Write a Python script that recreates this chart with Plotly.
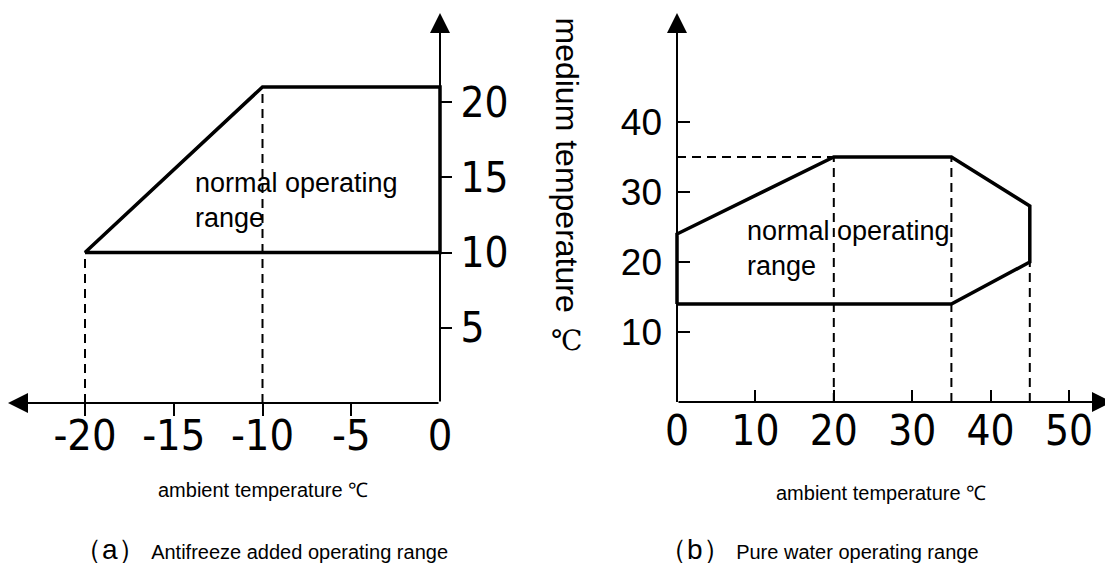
import plotly.graph_objects as go

# ---------------- data ----------------
# (a) antifreeze added: operating envelope (ambient °C, medium °C)
left_env_x = [-20, -10, 0, 0, -20]
left_env_y = [10, 21, 21, 10, 10]
left_guide_x = [-20, -20, None, -10, -10]
left_guide_y = [0, 10, None, 0, 21]
left_xticks = [-20, -15, -10, -5, 0]
left_xtick_marks = [-20, -15, -10, -5]
left_yticks = [5, 10, 15, 20]

# (b) pure water: operating envelope
right_env_x = [0, 0, 20, 35, 45, 45, 35, 0]
right_env_y = [14, 24, 35, 35, 28, 20, 14, 14]
right_guide_x = [0, 20, None, 20, 20, None, 35, 35, None, 45, 45]
right_guide_y = [35, 35, None, 0, 35, None, 0, 35, None, 0, 20]
right_xticks = [0, 10, 20, 30, 40, 50]
right_yticks = [10, 20, 30, 40]

# ---------------- layout constants (pixels) ----------------
W, H = 1113, 563
OFF = 8  # page body margin: figure pixel = target pixel - OFF


def px(p):
    return p - OFF


# left panel: pixel of value 0 and px per unit
LX0, LXS, LY0, LYS = px(440.0), 17.75, px(403.0), 15.05
LDOM = (0, px(560))
# right panel
RX0, RXS, RY0, RYS = px(677.0), 7.84, px(402.0), 7.0
RDOM = (px(600), W)

lx_range = [(LDOM[0] - LX0) / LXS, (LDOM[1] - LX0) / LXS]
ly_range = [(LY0 - H) / LYS, LY0 / LYS]
rx_range = [(RDOM[0] - RX0) / RXS, (RDOM[1] - RX0) / RXS]
ry_range = [(RY0 - H) / RYS, RY0 / RYS]

BLACK = "black"
NARROW = "Liberation Sans Narrow, Arial Narrow, DejaVu Sans Condensed, sans-serif"
SANS = "Liberation Sans, Arial, sans-serif"
DASH = dict(color=BLACK, width=2, dash="9px,6px")
BOLD = dict(color=BLACK, width=3.5)

fig = go.Figure()

# envelopes
fig.add_trace(go.Scatter(x=left_env_x, y=left_env_y, mode="lines", line=BOLD,
                         xaxis="x", yaxis="y", hoverinfo="skip", showlegend=False))
fig.add_trace(go.Scatter(x=left_guide_x, y=left_guide_y, mode="lines", line=DASH,
                         xaxis="x", yaxis="y", hoverinfo="skip", showlegend=False))
fig.add_trace(go.Scatter(x=right_env_x, y=right_env_y, mode="lines", line=BOLD,
                         xaxis="x2", yaxis="y2", hoverinfo="skip", showlegend=False))
fig.add_trace(go.Scatter(x=right_guide_x, y=right_guide_y, mode="lines", line=DASH,
                         xaxis="x2", yaxis="y2", hoverinfo="skip", showlegend=False))

common = dict(showgrid=False, zeroline=False, showline=False, tickmode="array",
              anchor="free")

fig.update_layout(
    width=W, height=H, autosize=False,
    margin=dict(l=0, r=0, t=0, b=0, pad=0),
    paper_bgcolor="white", plot_bgcolor="rgba(0,0,0,0)",
    showlegend=False,
    xaxis=dict(**common, domain=[LDOM[0] / W, LDOM[1] / W], range=lx_range,
               position=1 - LY0 / H, tickvals=left_xticks,
               ticktext=[str(v) for v in left_xticks],
               ticks="outside", ticklen=0, tickcolor="rgba(0,0,0,0)",
               ticklabelstandoff=-6,
               minor=dict(tickmode="array", tickvals=left_xtick_marks, ticks="outside",
                          ticklen=12, tickwidth=2, tickcolor=BLACK),
               tickfont=dict(family=NARROW, size=43, color=BLACK)),
    yaxis=dict(**common, domain=[0, 1], range=ly_range, side="right",
               position=LX0 / W, tickvals=left_yticks,
               ticktext=[str(v) for v in left_yticks],
               ticks="outside", ticklen=11, tickwidth=1.5, tickcolor=BLACK,
               tickfont=dict(family=NARROW, size=42, color=BLACK)),
    xaxis2=dict(**common, domain=[RDOM[0] / W, RDOM[1] / W], range=rx_range,
                position=1 - RY0 / H, tickvals=right_xticks,
                ticktext=[str(v) for v in right_xticks],
                ticks="inside", ticklen=12, tickwidth=2, tickcolor=BLACK,
                tickfont=dict(family=NARROW, size=42, color=BLACK)),
    yaxis2=dict(**common, domain=[0, 1], range=ry_range, side="left",
                position=RX0 / W, tickvals=right_yticks,
                ticktext=[str(v) for v in right_yticks],
                ticks="inside", ticklen=12, tickwidth=1.5, tickcolor=BLACK,
                ticklabelstandoff=15,
                tickfont=dict(family=SANS, size=37, color=BLACK)),
)

annotations = []
# axis lines with arrowheads (drawn from origin to tip)
arrow = dict(text="", showarrow=True, arrowhead=2, arrowsize=2.0, arrowwidth=2,
             arrowcolor=BLACK)
annotations.append(dict(**arrow, x=(px(8) - LX0) / LXS, y=0, xref="x", yref="y",
                        ax=0, ay=0, axref="x", ayref="y"))
annotations.append(dict(**arrow, x=0, y=(LY0 - px(13)) / LYS, xref="x", yref="y",
                        ax=0, ay=0, axref="x", ayref="y"))
annotations.append(dict(**arrow, x=(px(1112) - RX0) / RXS, y=0, xref="x2", yref="y2",
                        ax=0, ay=0, axref="x2", ayref="y2"))
annotations.append(dict(**arrow, x=0, y=(RY0 - px(13)) / RYS, xref="x2", yref="y2",
                        ax=0, ay=0, axref="x2", ayref="y2"))

region_font = dict(family=SANS, size=27, color=BLACK)
annotations.append(dict(text="normal operating<br>range", x=(px(193) - LX0) / LXS,
                        y=(LY0 - px(166)) / LYS, xref="x", yref="y", xanchor="left",
                        yanchor="top", align="left", showarrow=False, font=region_font))
annotations.append(dict(text="normal operating<br>range", x=(px(745) - RX0) / RXS,
                        y=(RY0 - px(214)) / RYS, xref="x2", yref="y2", xanchor="left",
                        yanchor="top", align="left", showarrow=False, font=region_font))

# axis titles
annotations.append(dict(text="medium temperature", textangle=90, x=px(567) / W,
                        y=1 - px(164.5) / H, xref="paper", yref="paper",
                        xanchor="center", yanchor="middle", showarrow=False,
                        font=dict(family=SANS, size=32, color=BLACK)))
annotations.append(dict(text="℃", x=px(566) / W, y=1 - px(341) / H, xref="paper",
                        yref="paper", xanchor="center", yanchor="middle", showarrow=False,
                        font=dict(family="Liberation Serif, DejaVu Serif, serif",
                                  size=28, color=BLACK)))
amb_font = dict(family=SANS, size=20, color=BLACK)
annotations.append(dict(text="ambient temperature ℃", x=px(262.5) / W, y=1 - px(490) / H,
                        xref="paper", yref="paper", xanchor="center", yanchor="middle",
                        showarrow=False, font=amb_font))
annotations.append(dict(text="ambient temperature ℃", x=px(881) / W, y=1 - px(493) / H,
                        xref="paper", yref="paper", xanchor="center", yanchor="middle",
                        showarrow=False, font=amb_font))

# captions
cap_font = dict(family=SANS, size=28, color=BLACK)
annotations.append(dict(text="（a）<span style='font-size:20px'> Antifreeze added operating range</span>",
                        x=px(72) / W, y=1 - px(567) / H, xref="paper", yref="paper",
                        xanchor="left", yanchor="bottom", showarrow=False, font=cap_font))
annotations.append(dict(text="（b）<span style='font-size:20px'> Pure water operating range</span>",
                        x=px(657) / W, y=1 - px(567) / H, xref="paper", yref="paper",
                        xanchor="left", yanchor="bottom", showarrow=False, font=cap_font))

fig.update_layout(annotations=annotations)

fig.write_html("out.html", config={"displayModeBar": False})
